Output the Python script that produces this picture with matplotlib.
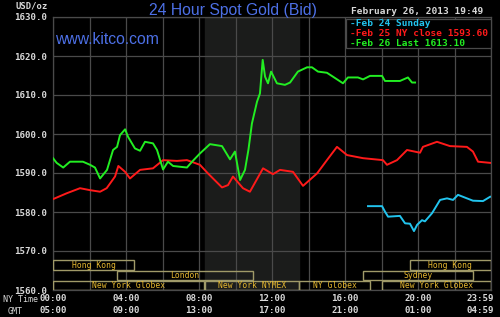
import matplotlib
matplotlib.use("Agg")
import matplotlib.pyplot as plt
from matplotlib.patches import Rectangle
from matplotlib.transforms import offset_copy

# ---------------- data ----------------
red_t = [0, 0.75, 1.48, 2.03, 2.58, 2.94, 3.40, 3.58, 3.95, 4.22, 4.77, 5.48, 6.03, 6.79,
         7.34, 8.05, 8.49, 9.26, 9.59, 9.86, 10.41, 10.79, 11.51, 12.05, 12.44, 13.15,
         13.70, 14.47, 15.01, 15.56, 16.11, 16.99, 18.08, 18.30, 18.85, 19.40, 20.11,
         20.27, 21.04, 21.75, 22.68, 23.01, 23.29, 23.95]
red_v = [1583.3, 1584.8, 1586.1, 1585.6, 1585.2, 1586.1, 1589.1, 1591.8, 1590.3, 1588.6,
         1590.8, 1591.2, 1593.3, 1593.1, 1593.3, 1592.1, 1589.9, 1586.3, 1586.9, 1589.1,
         1586.1, 1585.2, 1591.2, 1589.7, 1590.8, 1590.3, 1586.7, 1589.9, 1593.3, 1596.7,
         1594.6, 1593.8, 1593.3, 1592.1, 1593.3, 1595.9, 1595.2, 1596.7, 1598.0, 1596.9,
         1596.7, 1595.5, 1592.9, 1592.6]

green_t = [0, 0.20, 0.56, 0.93, 1.64, 2.03, 2.30, 2.58, 2.96, 3.29, 3.51, 3.67, 3.95, 4.11,
           4.49, 4.77, 5.04, 5.48, 5.70, 6.03, 6.30, 6.58, 7.34, 7.62, 8.05, 8.60, 9.26,
           9.70, 9.97, 10.25, 10.52, 10.71, 10.90, 11.18, 11.34, 11.49, 11.62, 11.78,
           11.95, 12.27, 12.71, 12.99, 13.42, 13.92, 14.19, 14.52, 15.01, 15.34, 15.89,
           16.16, 16.71, 16.99, 17.37, 18.03, 18.19, 19.01, 19.45, 19.67, 19.84]
green_v = [1593.8, 1592.6, 1591.4, 1592.9, 1592.9, 1592.1, 1591.4, 1588.6, 1590.8, 1595.9,
           1596.7, 1599.7, 1601.2, 1599.3, 1596.3, 1595.7, 1598.0, 1597.6, 1595.9, 1590.9,
           1592.9, 1591.8, 1591.4, 1592.9, 1595.0, 1597.4, 1596.9, 1593.5, 1595.5, 1588.2,
           1590.8, 1596.0, 1602.7, 1608.3, 1610.4, 1619.0, 1614.7, 1613.0, 1616.0, 1613.0,
           1612.6, 1613.2, 1616.0, 1617.1, 1617.1, 1616.0, 1615.7, 1614.7, 1613.0, 1614.5,
           1614.5, 1614.0, 1614.9, 1614.9, 1613.6, 1613.6, 1614.5, 1613.2, 1613.2]

cyan_t = [17.26, 18.03, 18.19, 18.36, 19.01, 19.29, 19.56, 19.78, 19.95, 20.22, 20.38,
          20.77, 21.21, 21.59, 21.92, 22.19, 22.68, 23.01, 23.56, 23.95]
cyan_v = [1581.5, 1581.5, 1580.1, 1578.8, 1579.0, 1577.1, 1577.0, 1575.1, 1576.7, 1577.9,
          1577.6, 1579.7, 1583.1, 1583.5, 1583.1, 1584.4, 1583.5, 1582.9, 1582.8, 1583.9]

y_ticks = [1560, 1570, 1580, 1590, 1600, 1610, 1620, 1630]
x_ticks = [0, 4, 8, 12, 16, 20, 24]
ny_labels = ["00:00", "04:00", "08:00", "12:00", "16:00", "20:00", "23:59"]
gmt_labels = ["05:00", "09:00", "13:00", "17:00", "21:00", "01:00", "04:59"]

session_names = ["Hong Kong", "London", "New York Globex", "New York NYMEX", "NY Globex",
                 "Sydney", "Hong Kong", "New York Globex"]
session_start = [0, 3.5, 0, 8.33, 13.5, 17.0, 19.55, 18.05]
session_end = [4.45, 10.97, 8.27, 13.48, 17.37, 23.0, 24, 24]
session_row = [0, 1, 2, 2, 2, 1, 0, 2]

legend_labels = ["Feb 24 Sunday", "Feb 25 NY close 1593.60", "Feb 26 Last 1613.10"]

# ---------------- style ----------------
C_RED = "#ff1a1a"
C_GREEN = "#22ee22"
C_CYAN = "#22c4ee"
C_GRID = "#4a4a4a"
C_TEXT = "#d8d8d8"
C_SESS_TXT = "#e6b830"
C_SESS_BOX = "#a09a68"
MONO = "DejaVu Sans Mono"

fig = plt.figure(figsize=(5.0, 3.17), dpi=100, facecolor="black")
ax = fig.add_axes([53/500, 27/317, 438/500, 273/317], facecolor="black")
ax.set_xlim(0, 24)
ax.set_ylim(1560, 1630)

# NYMEX pit shading
ax.axvspan(8.33, 13.5, color="#1b1c1b", zorder=0)

# grid (vertical every 2 hours, drawn explicitly)
for h in range(0, 25, 2):
    ax.axvline(h, color=C_GRID, lw=0.9, zorder=1)
ax.set_yticks(y_ticks)
ax.set_yticklabels([f"{v:.1f}" for v in y_ticks], fontfamily=MONO, fontsize=6.6,
                   color=C_TEXT, fontweight="bold")
ax.grid(True, which="major", axis="y", color=C_GRID, lw=0.9, zorder=1)
ax.tick_params(axis="both", which="both", length=0, pad=4)
for s in ax.spines.values():
    s.set_color(C_GRID)
    s.set_linewidth(0.9)

ax.set_xticks(x_ticks)
ax.set_xticklabels([])
# x labels: two rows
for t, a, b in zip(x_ticks, ny_labels, gmt_labels):
    ha = "center"
    xo = 0
    if t == 24:
        ha = "right"
        xo = 3
    tr = offset_copy(ax.get_xaxis_transform(), fig=fig, x=xo, y=0, units="dots")
    ax.text(t, -0.032, a, transform=tr, ha=ha, va="center", fontfamily=MONO,
            fontsize=6.6, color=C_TEXT, fontweight="bold", clip_on=False)
    ax.text(t, -0.075, b, transform=tr, ha=ha, va="center", fontfamily=MONO,
            fontsize=6.6, color=C_TEXT, fontweight="bold", clip_on=False)

fig.text(3/500, 1 - 299/317, "NY Time", ha="left", va="center", fontfamily=MONO,
         fontsize=6.0, color=C_TEXT)
fig.text(8/500, 1 - 311/317, "GMT", ha="left", va="center", fontfamily=MONO,
         fontsize=6.0, color=C_TEXT)

# series
ax.plot(red_t, red_v, color=C_RED, lw=1.4, zorder=4)
ax.plot(green_t, green_v, color=C_GREEN, lw=1.4, zorder=5)
ax.plot(cyan_t, cyan_v, color=C_CYAN, lw=1.4, zorder=4)

# session boxes
row_bottom = [1565.2, 1562.6, 1560.0]
row_h = 2.4
for name, s, e, r in zip(session_names, session_start, session_end, session_row):
    rect = Rectangle((s, row_bottom[r]), e - s, row_h, fill=False,
                     edgecolor=C_SESS_BOX, lw=1.0, zorder=6)
    ax.add_patch(rect)
    ax.text((s + e) / 2, row_bottom[r] + row_h / 2, name, ha="center", va="center",
            fontfamily=MONO, fontsize=5.8, color=C_SESS_TXT, zorder=7)

# titles
fig.text(233/500, 1 - 10/317, "24 Hour Spot Gold (Bid)", ha="center", va="center",
         fontfamily="Liberation Sans", fontsize=11.3, color="#4d70e6")
fig.text(16/500, 1 - 6/317, "USD/oz", ha="left", va="center", fontfamily=MONO,
         fontsize=6.4, color=C_TEXT, fontweight="bold")
ax.text(0.005, 0.916, "www.kitco.com", transform=ax.transAxes, ha="left", va="center",
        fontfamily="Liberation Sans", fontsize=11.3, color="#4d70e6", zorder=8)
fig.text(483/500, 1 - 12/317, "February 26, 2013 19:49", ha="right", va="center",
         fontfamily=MONO, fontsize=6.8, color=C_TEXT, fontweight="bold")

# legend box
lx0, lx1 = 346, 491
ly0, ly1 = 19, 48
leg = Rectangle((lx0/500, 1 - ly1/317), (lx1 - lx0)/500, (ly1 - ly0)/317,
                transform=fig.transFigure, facecolor="black", edgecolor=C_GRID,
                lw=0.9, zorder=9)
ax.add_patch(leg)
leg.set_clip_on(False)
for i, (lab, col) in enumerate(zip(legend_labels, [C_CYAN, C_RED, C_GREEN])):
    yy = 1 - (23.5 + 10 * i)/317
    fig.text(350/500, yy, "-" + lab, ha="left", va="center", fontfamily=MONO,
             fontsize=6.8, color=col, fontweight="bold", zorder=10)

fig.savefig("out.png", dpi=100, facecolor="black")
